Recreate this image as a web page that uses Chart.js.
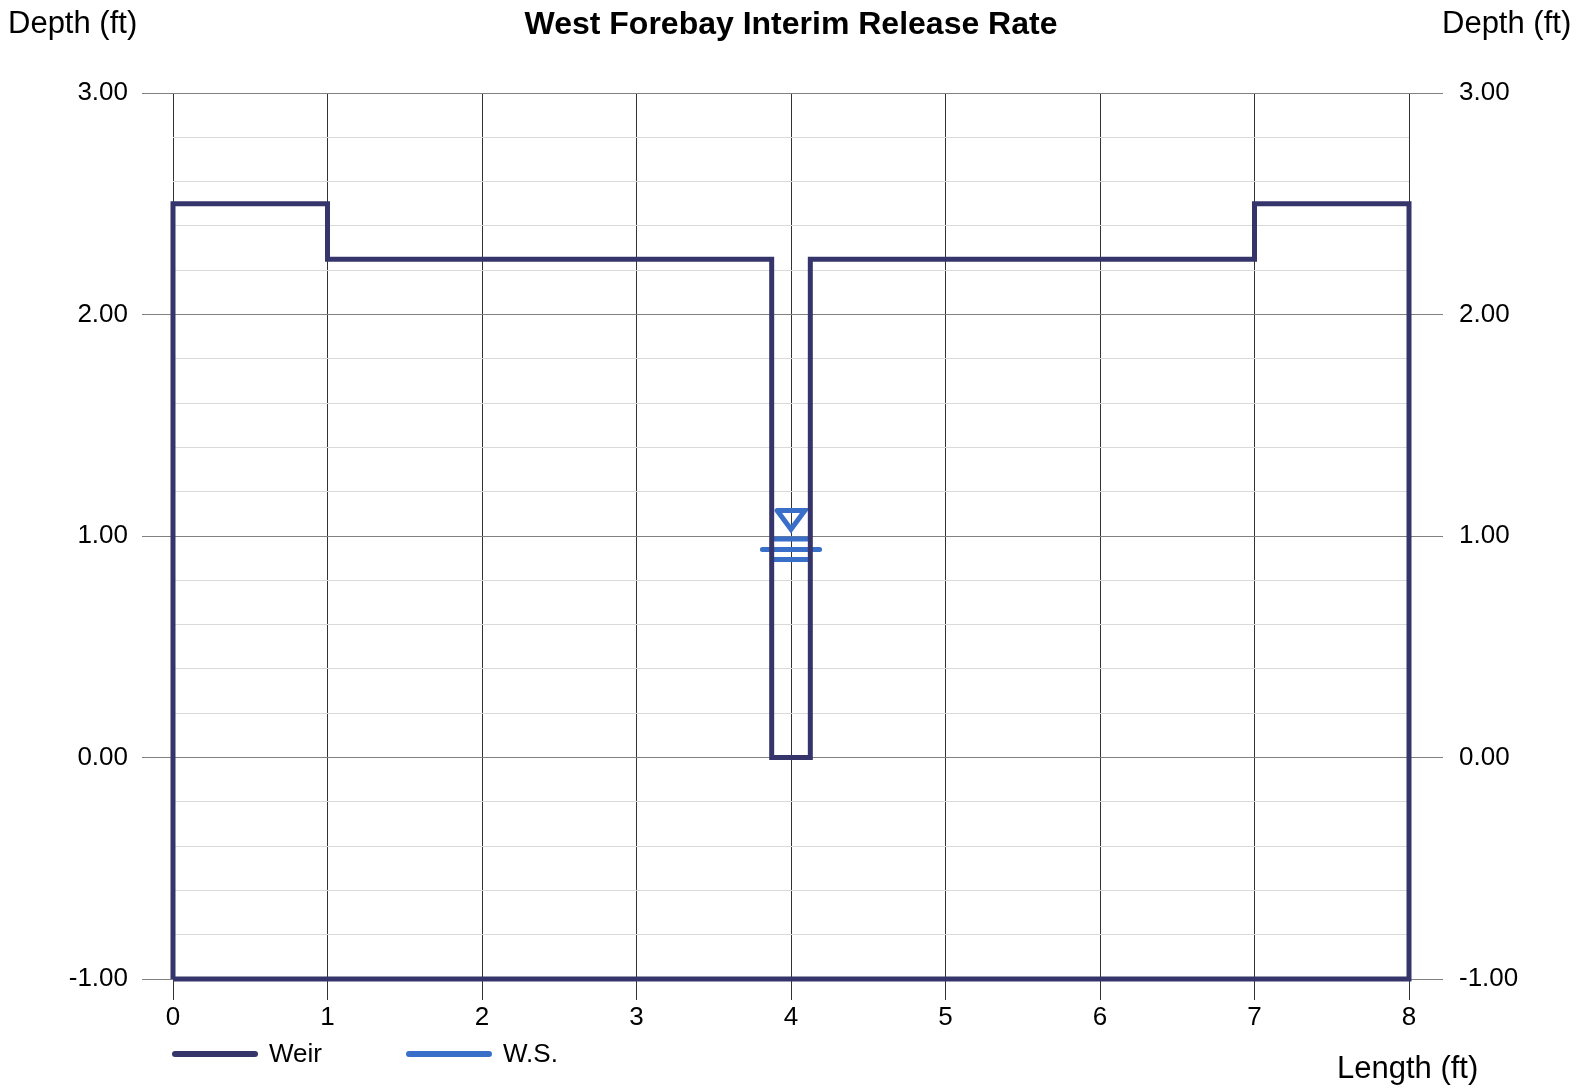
<!DOCTYPE html>
<html>
<head>
<meta charset="utf-8">
<title>West Forebay Interim Release Rate</title>
<script src="https://cdn.jsdelivr.net/npm/chart.js@4.4.1/dist/chart.umd.min.js"></script>
<style>
  html, body { margin: 0; padding: 0; background: #fff; }
</style>
</head>
<body>
<canvas id="weirChart" width="1586" height="1088"></canvas>
<script>
// weir outline, traced once around (ft)
var weirX = [0, 0, 1, 1, 3.875, 3.875, 4.125, 4.125, 7, 7, 8, 8, 0];
var weirY = [-1, 2.5, 2.5, 2.25, 2.25, 0, 0, 2.25, 2.25, 2.5, 2.5, -1, -1];

// water surface marker: triangle + three bars, null breaks the line
var wsX = [3.91, 4.09, 4, 3.91, null, 3.895, 4.105, null, 3.815, 4.185, null, 3.895, 4.105];
var wsY = [1.115, 1.115, 1.03, 1.115, null, 0.987, 0.987, null, 0.939, 0.939, null, 0.894, 0.894];

var xTickLabels = ['0', '1', '2', '3', '4', '5', '6', '7', '8'];
var yTickLabels = ['-1.00', '0.00', '1.00', '2.00', '3.00'];

var FONT = "'Liberation Sans', Arial, sans-serif";
var weirColor = '#35356b';
var wsColor = '#3a6fc9';

function toPoints(xs, ys) {
  return xs.map(function (x, i) { return { x: x, y: ys[i] }; });
}

function isMajor(v) {
  return Math.abs(v - Math.round(v)) < 1e-6;
}

function yLabel(value) {
  if (!isMajor(value)) return '';
  return yTickLabels[Math.round(value) + 1];
}

var textPlugin = {
  id: 'textPlugin',
  afterDraw: function (chart) {
    var c = chart.ctx;
    var area = chart.chartArea;
    c.save();
    c.fillStyle = '#000';
    c.textBaseline = 'alphabetic';

    c.font = 'bold 32px ' + FONT;
    c.textAlign = 'center';
    c.fillText('West Forebay Interim Release Rate', (area.left + area.right) / 2, 34);

    c.font = '31px ' + FONT;
    c.textAlign = 'left';
    c.fillText('Depth (ft)', 8, 33);
    c.fillText('Depth (ft)', 1442, 33);
    c.fillText('Length (ft)', 1337, 1078);

    // legend
    var items = [
      { x: 172, label: chart.data.datasets[0].label, color: weirColor },
      { x: 406, label: chart.data.datasets[1].label, color: wsColor }
    ];
    c.font = '26px ' + FONT;
    c.textBaseline = 'middle';
    items.forEach(function (it) {
      c.strokeStyle = it.color;
      c.lineWidth = 6;
      c.lineCap = 'round';
      c.beginPath();
      c.moveTo(it.x + 3, 1054);
      c.lineTo(it.x + 83, 1054);
      c.stroke();
      c.fillText(it.label, it.x + 97, 1055);
    });
    c.restore();
  }
};

new Chart(document.getElementById('weirChart'), {
  type: 'scatter',
  data: {
    datasets: [{
      label: 'Weir',
      data: toPoints(weirX, weirY),
      showLine: true,
      clip: false,
      borderColor: weirColor,
      borderWidth: 5,
      borderJoinStyle: 'miter',
      pointRadius: 0,
      pointHoverRadius: 0,
      tension: 0
    }, {
      label: 'W.S.',
      data: toPoints(wsX, wsY),
      showLine: true,
      spanGaps: false,
      clip: false,
      borderColor: wsColor,
      borderWidth: 5,
      borderCapStyle: 'round',
      borderJoinStyle: 'miter',
      pointRadius: 0,
      pointHoverRadius: 0,
      tension: 0
    }]
  },
  options: {
    responsive: false,
    animation: false,
    layout: { padding: { top: 93, left: 0, right: 0, bottom: 0 } },
    plugins: {
      legend: { display: false },
      title: { display: false },
      tooltip: { enabled: false }
    },
    scales: {
      x: {
        type: 'linear',
        position: 'bottom',
        min: 0,
        max: 8,
        border: { display: false },
        grid: {
          color: '#333333',
          tickColor: '#333333',
          tickLength: 21,
          lineWidth: 1
        },
        ticks: {
          stepSize: 1,
          padding: 2,
          color: '#000',
          font: { family: FONT, size: 26 },
          maxRotation: 0,
          callback: function (value, index) { return xTickLabels[index]; }
        },
        afterFit: function (scale) { scale.height = 109; }
      },
      y: {
        type: 'linear',
        position: 'left',
        min: -1,
        max: 3,
        border: { display: false },
        grid: {
          color: function (ctx) { return isMajor(ctx.tick.value) ? '#808080' : '#d9d9d9'; },
          tickColor: function (ctx) { return isMajor(ctx.tick.value) ? '#808080' : 'rgba(0,0,0,0)'; },
          tickLength: 31,
          lineWidth: 1
        },
        ticks: {
          stepSize: 0.2,
          autoSkip: false,
          padding: 14,
          color: '#000',
          font: { family: FONT, size: 26 },
          callback: yLabel
        },
        afterFit: function (scale) { scale.width = 173; }
      },
      y2: {
        type: 'linear',
        position: 'right',
        min: -1,
        max: 3,
        border: { display: false },
        grid: {
          drawOnChartArea: false,
          tickColor: function (ctx) { return isMajor(ctx.tick.value) ? '#808080' : 'rgba(0,0,0,0)'; },
          tickLength: 34,
          lineWidth: 1
        },
        ticks: {
          stepSize: 0.2,
          autoSkip: false,
          padding: 16,
          color: '#000',
          font: { family: FONT, size: 26 },
          callback: yLabel
        },
        afterFit: function (scale) { scale.width = 177; }
      }
    }
  },
  plugins: [textPlugin]
});
</script>
</body>
</html>
